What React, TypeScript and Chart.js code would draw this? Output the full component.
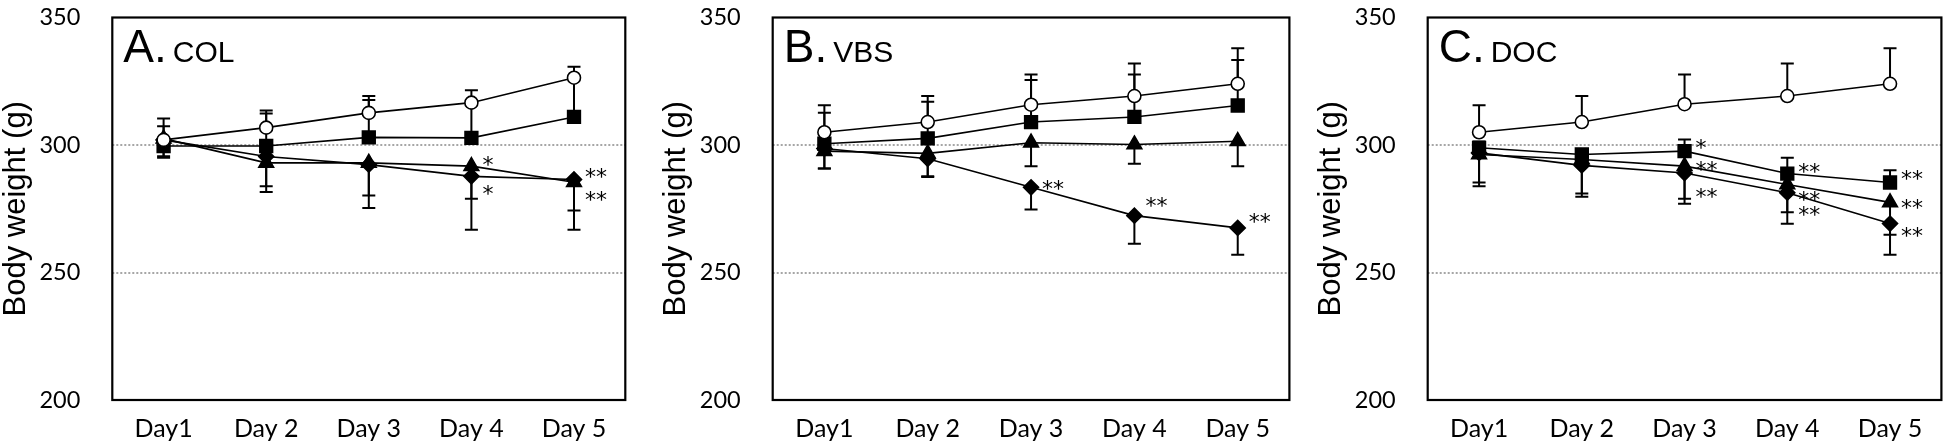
import React, { useEffect, useRef } from "react";
import { Chart, registerables } from "chart.js";
Chart.register(...registerables);

// ---------- data ----------
const days = ["Day1", "Day 2", "Day 3", "Day 4", "Day 5"];
const yTicks = [200, 250, 300, 350];
const gridValues = [250, 300];

// Panel A: COL
const colControl = [302, 306.8, 312.6, 316.6, 326.4];
const colControlSD = [8.4, 6.7, 6.6, 4.9, 4.3];
const colSquare = [299.6, 299.6, 303, 302.8, 311];
const colSquareSD = [7.8, 12.8, 14.6, 13, 15];
const colTriangle = [302.5, 293, 293, 291.7, 285.4];
const colTriangleSD = [6.9, 9.2, 12.8, 12.8, 11.1];
const colDiamond = [302, 295.5, 292.3, 287.7, 286.5];
const colDiamondSD = [7, 13.9, 17, 20.9, 19.7];
const colStars = [
  { day: 3, value: 294.3, text: "*" },
  { day: 3, value: 282.9, text: "*" },
  { day: 4, value: 289.3, text: "**" },
  { day: 4, value: 280.2, text: "**" },
];

// Panel B: VBS
const vbsControl = [305, 309, 315.8, 319.2, 324];
const vbsControlSD = [10.6, 10.2, 11.8, 12.8, 13.9];
const vbsSquare = [300.5, 302.6, 309, 311, 315.5];
const vbsSquareSD = [12.1, 14.4, 16.5, 16.6, 17.8];
const vbsTriangle = [297.6, 296.7, 300.9, 300.2, 301.5];
const vbsTriangleSD = [6.8, 9, 9.2, 7.6, 9.8];
const vbsDiamond = [298.6, 294.6, 283.4, 272.3, 267.5];
const vbsDiamondSD = [7.8, 7.1, 8.7, 11, 10.5];
const vbsStars = [
  { day: 2, value: 284.9, text: "**" },
  { day: 3, value: 278.2, text: "**" },
  { day: 4, value: 271.6, text: "**" },
];

// Panel C: DOC
const docControl = [305, 309, 316, 319.2, 324];
const docControlSD = [10.6, 10.2, 11.6, 12.8, 13.9];
const docSquare = [298.9, 296.3, 297.6, 288.8, 285.3];
const docSquareSD = [2.5, 1.5, 4.6, 6.2, 4.8];
const docTriangle = [296.3, 294.3, 291.7, 284.5, 277.5];
const docTriangleSD = [11, 13.3, 12.8, 10.9, 12.7];
const docDiamond = [296.9, 292, 289, 281.3, 269.2];
const docDiamondSD = [13.1, 12.3, 12, 12.2, 12.2];
const docStars = [
  { day: 2, value: 300.9, text: "*" },
  { day: 2, value: 292.1, text: "**" },
  { day: 2, value: 281.5, text: "**" },
  { day: 3, value: 291.3, text: "**" },
  { day: 3, value: 280.2, text: "**" },
  { day: 3, value: 274.7, text: "**" },
  { day: 4, value: 288.7, text: "**" },
  { day: 4, value: 277.1, text: "**" },
  { day: 4, value: 266.2, text: "**" },
];

// ---------- styles ----------
const MARKERS: Record<string, any> = {
  circle: { pointStyle: "circle", pointRadius: 6.5, pointBackgroundColor: "#fff" },
  square: { pointStyle: "rect", pointRadius: 9, pointBackgroundColor: "#000" },
  triangle: { pointStyle: "triangle", pointRadius: 8.5, pointBackgroundColor: "#000" },
  diamond: { pointStyle: "rectRot", pointRadius: 7.5, pointBackgroundColor: "#000" },
};

const TICK_FONT = "Lato";
const TEXT_FONT = '"Liberation Sans", Arial, sans-serif';

type Series = { data: number[]; sd: number[]; dir: number; marker: string };
type Star = { day: number; value: number; text: string };
type PanelDef = {
  letter: string;
  name: string;
  left: number;
  width: number;
  areaLeft: number;
  areaRight: number;
  series: Series[];
  stars: Star[];
};

const mk = (c: number[], cs: number[], s: number[], ss: number[], t: number[], ts: number[], d: number[], ds: number[]): Series[] => [
  { data: c, sd: cs, dir: 1, marker: "circle" },
  { data: s, sd: ss, dir: 1, marker: "square" },
  { data: t, sd: ts, dir: -1, marker: "triangle" },
  { data: d, sd: ds, dir: -1, marker: "diamond" },
];

const panels: PanelDef[] = [
  {
    letter: "A.", name: "COL", left: 0, width: 650, areaLeft: 112.3, areaRight: 625.3,
    series: mk(colControl, colControlSD, colSquare, colSquareSD, colTriangle, colTriangleSD, colDiamond, colDiamondSD),
    stars: colStars,
  },
  {
    letter: "B.", name: "VBS", left: 650, width: 650, areaLeft: 122.7, areaRight: 640,
    series: mk(vbsControl, vbsControlSD, vbsSquare, vbsSquareSD, vbsTriangle, vbsTriangleSD, vbsDiamond, vbsDiamondSD),
    stars: vbsStars,
  },
  {
    letter: "C.", name: "DOC", left: 1300, width: 652, areaLeft: 127.7, areaRight: 644.7,
    series: mk(docControl, docControlSD, docSquare, docSquareSD, docTriangle, docTriangleSD, docDiamond, docDiamondSD),
    stars: docStars,
  },
];

const TOP = 17.5;
const BOTTOM = 400;
const H = 444;

function PanelChart({ p }: { p: PanelDef }) {
  const ref = useRef<HTMLCanvasElement | null>(null);
  useEffect(() => {
    const canvas = ref.current;
    if (!canvas) return;
    const panelPlugin = {
      id: "panelDecor",
      beforeDatasetsDraw(chart: any) {
        const { ctx, chartArea, scales } = chart;
        const xs = scales.x, ys = scales.y;
        ctx.save();
        // dotted grid lines
        ctx.strokeStyle = "#a6a6a6";
        ctx.lineWidth = 2;
        ctx.setLineDash([2, 2]);
        gridValues.forEach((v) => {
          const y = Math.round(ys.getPixelForValue(v));
          ctx.beginPath();
          ctx.moveTo(chartArea.left, y);
          ctx.lineTo(chartArea.right, y);
          ctx.stroke();
        });
        ctx.setLineDash([]);
        // error bars
        ctx.strokeStyle = "#000";
        ctx.lineWidth = 2;
        p.series.forEach((s) => {
          s.data.forEach((v, j) => {
            const x = xs.getPixelForValue(j);
            const y0 = ys.getPixelForValue(v);
            const y1 = ys.getPixelForValue(v + s.dir * s.sd[j]);
            ctx.beginPath();
            ctx.moveTo(x, y0);
            ctx.lineTo(x, y1);
            ctx.moveTo(x - 6.5, y1);
            ctx.lineTo(x + 6.5, y1);
            ctx.stroke();
          });
        });
        ctx.restore();
      },
      afterDatasetsDraw(chart: any) {
        const { ctx, chartArea, scales } = chart;
        const xs = scales.x, ys = scales.y;
        ctx.save();
        // frame
        ctx.strokeStyle = "#000";
        ctx.lineWidth = 2.2;
        ctx.strokeRect(chartArea.left, chartArea.top, chartArea.right - chartArea.left, chartArea.bottom - chartArea.top);
        // stars
        ctx.fillStyle = "#000";
        ctx.font = '22px "DejaVu Sans"';
        ctx.textAlign = "left";
        ctx.textBaseline = "alphabetic";
        p.stars.forEach((st) => {
          const x = xs.getPixelForValue(st.day) + 11;
          const y = ys.getPixelForValue(st.value) + 12;
          ctx.fillText(st.text, x, y);
        });
        // panel label
        ctx.font = `46px ${TEXT_FONT}`;
        ctx.fillText(p.letter, chartArea.left + 11, 62);
        const w = ctx.measureText(p.letter).width;
        ctx.font = `30px ${TEXT_FONT}`;
        ctx.fillText(p.name, chartArea.left + 11 + w + 6, 62);
        // y title
        ctx.translate(chartArea.left - 96, (chartArea.top + chartArea.bottom) / 2);
        ctx.rotate(-Math.PI / 2);
        ctx.textAlign = "center";
        ctx.textBaseline = "middle";
        ctx.font = `31px ${TEXT_FONT}`;
        ctx.fillText("Body weight (g)", 0, 0);
        ctx.restore();
      },
    };

    const pad = { top: TOP, right: p.width - p.areaRight, bottom: 0, left: 0 };
    const chart = new Chart(canvas, {
      type: "line",
      data: {
        labels: days,
        datasets: p.series.map((s) => ({
          data: s.data,
          borderColor: "#000",
          borderWidth: 1.6,
          tension: 0,
          fill: false,
          pointBorderColor: "#000",
          pointBorderWidth: 1.6,
          ...MARKERS[s.marker],
        })),
      },
      options: {
        responsive: false,
        animation: false,
        devicePixelRatio: 1,
        layout: { padding: { ...pad } },
        plugins: { legend: { display: false }, tooltip: { enabled: false } },
        scales: {
          x: {
            offset: true,
            grid: { display: false, drawTicks: false },
            border: { display: false },
            ticks: { color: "#000", font: { family: TICK_FONT, size: 25 }, padding: 14, maxRotation: 0, autoSkip: false },
            afterFit: (s: any) => { s.height = H - BOTTOM; s.paddingLeft = 0; s.paddingRight = 0; },
          },
          y: {
            min: 200,
            max: 350,
            afterBuildTicks: (s: any) => { s.ticks = yTicks.map((v) => ({ value: v })); },
            grid: { display: false, drawTicks: false },
            border: { display: false },
            ticks: { color: "#000", font: { family: TICK_FONT, size: 23.5 }, padding: 32 },
            afterFit: (s: any) => { s.width = p.areaLeft; s.paddingTop = 0; s.paddingBottom = 0; },
          },
        },
      } as any,
      plugins: [panelPlugin],
    });
    // correct the plot area so that it lands exactly where wanted
    for (let i = 0; i < 4; i++) {
      const ca = chart.chartArea;
      const dt = ca.top - TOP;
      const db = ca.bottom - BOTTOM;
      const dl = ca.left - p.areaLeft;
      const dr = ca.right - p.areaRight;
      if (Math.abs(dt) < 0.3 && Math.abs(db) < 0.3 && Math.abs(dl) < 0.3 && Math.abs(dr) < 0.3) break;
      pad.top -= dt;
      pad.bottom += db;
      pad.left -= dl;
      pad.right += dr;
      (chart.options as any).layout.padding = { ...pad };
      chart.update();
    }
    return () => chart.destroy();
  }, [p]);
  return (
    <canvas
      ref={ref}
      width={p.width}
      height={H}
      style={{ position: "absolute", left: p.left, top: 0, width: p.width, height: H, display: "block" }}
    />
  );
}

export default function App() {
  return (
    <div style={{ position: "fixed", left: 0, top: 0, width: 1952, height: H, background: "#fff", overflow: "hidden" }}>
      {panels.map((p) => (
        <PanelChart key={p.letter} p={p} />
      ))}
    </div>
  );
}
